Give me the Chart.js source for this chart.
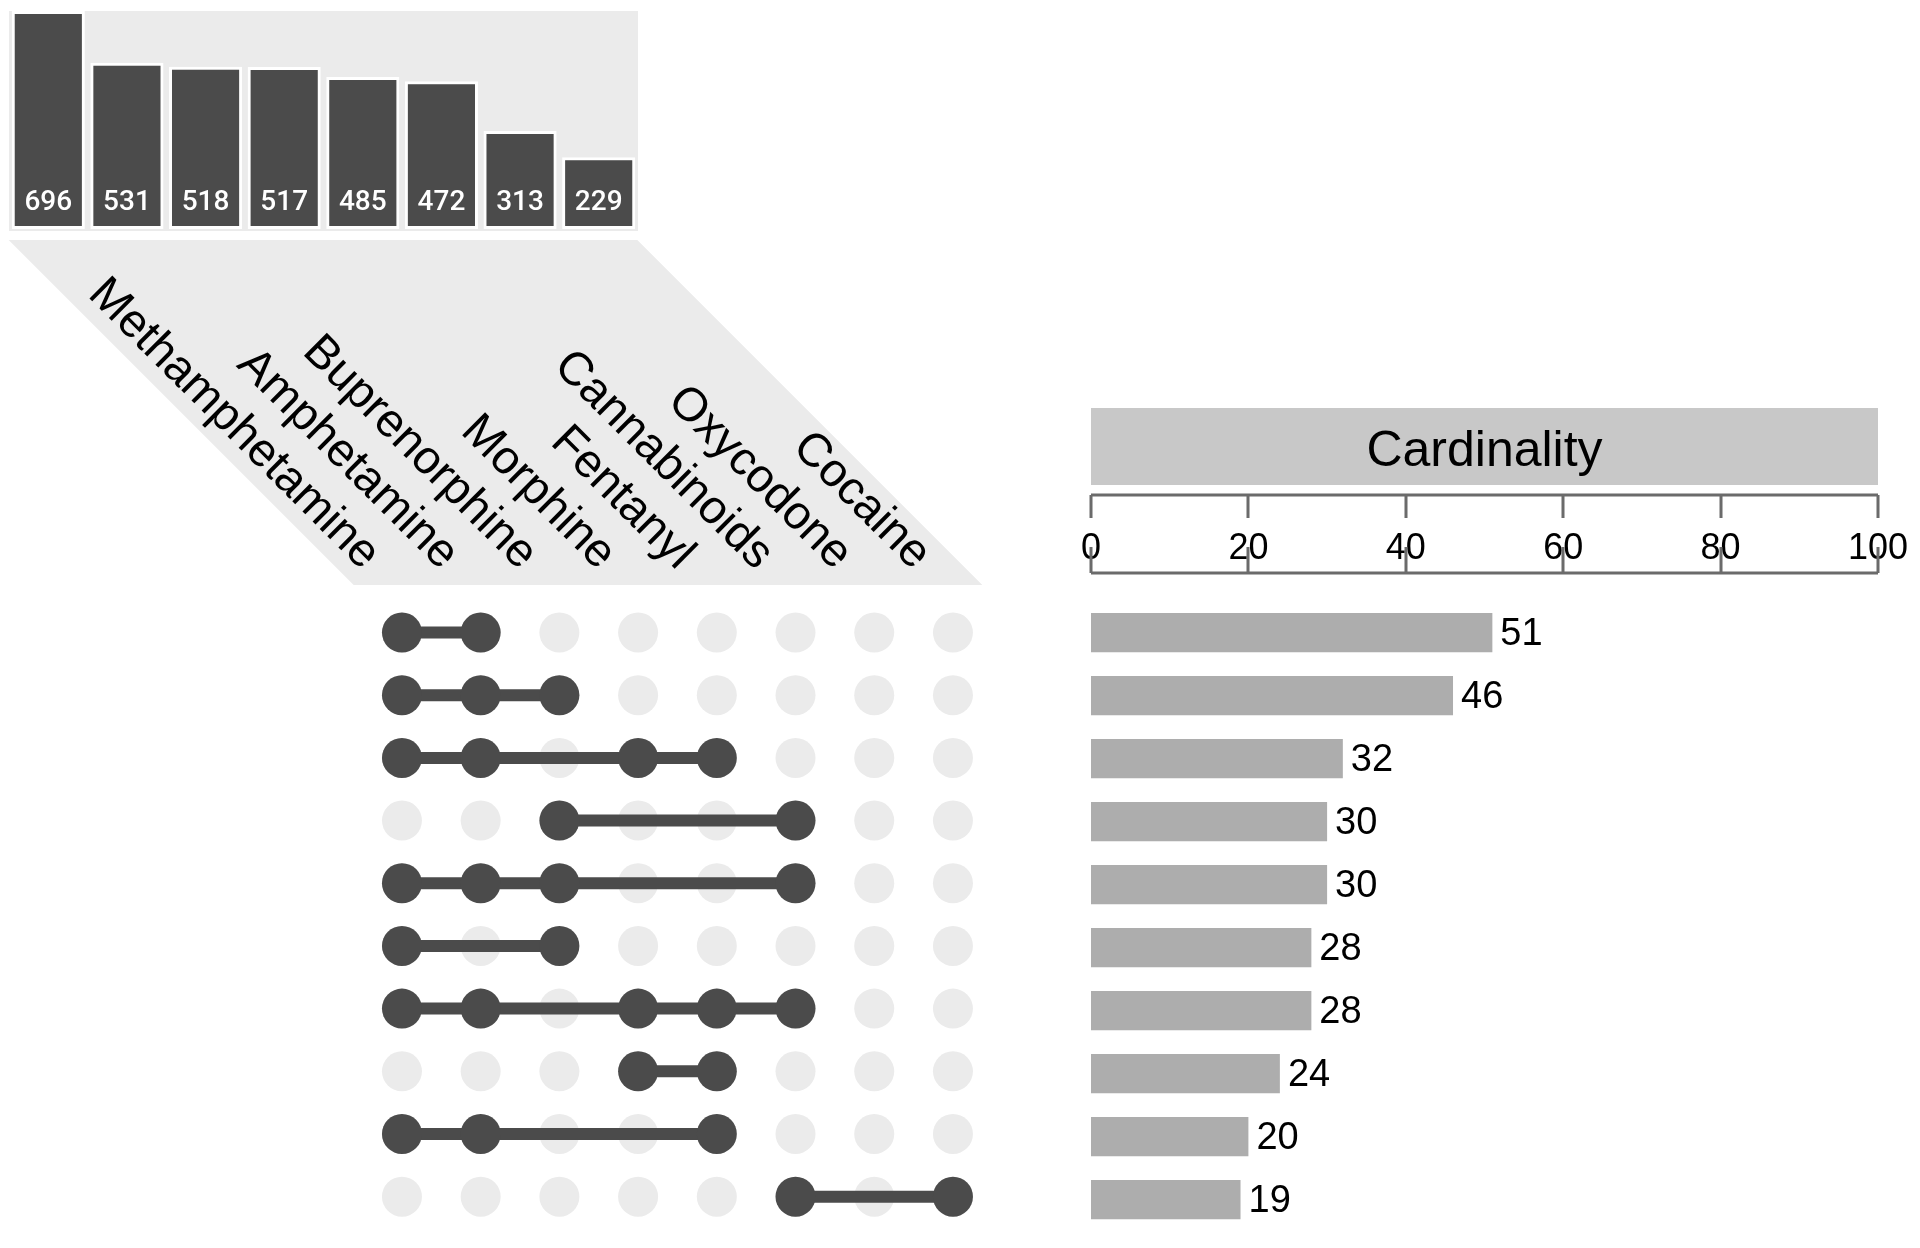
<!DOCTYPE html>
<html lang="en">
<head>
<meta charset="UTF-8">
<title>UpSet</title>
<style>
  html, body { margin: 0; padding: 0; background: #fff; }
  body { width: 1920px; height: 1248px; position: relative; overflow: hidden; }
  canvas { position: absolute; }
</style>
</head>
<body>
<canvas id="setChart" width="660" height="240" style="left:0;top:0"></canvas>
<canvas id="matrixChart" width="1060" height="1018" style="left:0;top:230px"></canvas>
<canvas id="cardChart" width="860" height="868" style="left:1060px;top:380px"></canvas>

<script src="https://cdn.jsdelivr.net/npm/chart.js"></script>
<script>
    // data
    const sets = ['Methamphetamine', 'Amphetamine', 'Buprenorphine', 'Morphine',
                  'Fentanyl', 'Cannabinoids', 'Oxycodone', 'Cocaine'];
    const setSizes = [696, 531, 518, 517, 485, 472, 313, 229];

    const intersections = [
        ['Methamphetamine', 'Amphetamine'],
        ['Methamphetamine', 'Amphetamine', 'Buprenorphine'],
        ['Methamphetamine', 'Amphetamine', 'Morphine', 'Fentanyl'],
        ['Buprenorphine', 'Cannabinoids'],
        ['Methamphetamine', 'Amphetamine', 'Buprenorphine', 'Cannabinoids'],
        ['Methamphetamine', 'Buprenorphine'],
        ['Methamphetamine', 'Amphetamine', 'Morphine', 'Fentanyl', 'Cannabinoids'],
        ['Morphine', 'Fentanyl'],
        ['Methamphetamine', 'Amphetamine', 'Fentanyl'],
        ['Cannabinoids', 'Cocaine']
    ];
    const cardinality = [51, 46, 32, 30, 30, 28, 28, 24, 20, 19];
    const cardTicks = [0, 20, 40, 60, 80, 100];

    const DARK = '#4b4b4b';
    const LIGHT = '#ebebeb';
    const LABEL_FONT = '"Liberation Sans", Arial, sans-serif';

    Chart.defaults.animation = false;
    Chart.defaults.responsive = false;
    Chart.defaults.plugins.legend.display = false;
    Chart.defaults.plugins.tooltip.enabled = false;

    // ---- set size bars (top left)
    new Chart(document.getElementById('setChart'), {
        type: 'bar',
        data: {
            labels: sets,
            datasets: [{
                data: setSizes,
                backgroundColor: DARK,
                borderColor: '#ffffff',
                borderWidth: 3,
                borderSkipped: false,
                barPercentage: 0.93,
                categoryPercentage: 1
            }]
        },
        options: {
            layout: {padding: {left: 9, right: 22, top: 11, bottom: 11}},
            scales: {
                x: {display: false},
                y: {display: false, min: 0, max: 696}
            }
        },
        plugins: [{
            id: 'panel',
            beforeDraw(chart) {
                const {ctx, chartArea: a} = chart;
                ctx.save();
                ctx.fillStyle = LIGHT;
                ctx.fillRect(a.left, a.top, a.right - a.left, a.bottom - a.top + 2);
                ctx.restore();
            },
            afterDatasetsDraw(chart) {
                const {ctx} = chart;
                const meta = chart.getDatasetMeta(0);
                ctx.save();
                ctx.fillStyle = '#ffffff';
                ctx.font = '500 28px Roboto, sans-serif';
                ctx.textAlign = 'center';
                ctx.textBaseline = 'middle';
                meta.data.forEach((bar, i) => {
                    ctx.fillText(String(setSizes[i]), bar.x, chart.chartArea.bottom - 26);
                });
                ctx.restore();
            }
        }]
    });

    // ---- membership matrix
    const rowDatasets = intersections.map((members, r) => ({
        data: members.map(name => ({x: sets.indexOf(name), y: r}))
            .sort((a, b) => a.x - b.x),
        showLine: true,
        borderColor: DARK,
        borderWidth: 12,
        pointRadius: 20,
        pointBackgroundColor: DARK,
        pointBorderWidth: 0,
        clip: false
    }));
    const gridPoints = [];
    intersections.forEach((m, r) => sets.forEach((s, c) => gridPoints.push({x: c, y: r})));

    new Chart(document.getElementById('matrixChart'), {
        type: 'scatter',
        data: {
            datasets: rowDatasets.concat([{
                data: gridPoints,
                pointRadius: 20,
                pointBackgroundColor: LIGHT,
                pointBorderWidth: 0,
                clip: false
            }])
        },
        options: {
            layout: {padding: {left: 362.6, right: 67.7, top: 371.2, bottom: 16.8}},
            scales: {
                x: {type: 'linear', display: false, min: -0.5, max: 7.5},
                y: {type: 'linear', display: false, min: -0.5, max: 9.5, reverse: true}
            }
        },
        plugins: [{
            id: 'setLabels',
            beforeDraw(chart) {
                const {ctx, chartArea: a} = chart;
                const xs = chart.scales.x;
                const yBottom = 355, yTop = 10;
                const shift = yBottom - yTop;
                ctx.save();
                ctx.fillStyle = LIGHT;
                ctx.beginPath();
                ctx.moveTo(a.left - 9, yBottom);
                ctx.lineTo(a.right - 10, yBottom);
                ctx.lineTo(a.right - 10 - shift, yTop);
                ctx.lineTo(a.left - 9 - shift, yTop);
                ctx.closePath();
                ctx.fill();

                ctx.fillStyle = '#000000';
                ctx.font = '47px ' + LABEL_FONT;
                ctx.textAlign = 'right';
                ctx.textBaseline = 'alphabetic';
                sets.forEach((name, i) => {
                    ctx.save();
                    ctx.translate(xs.getPixelForValue(i) - 40, 341);
                    ctx.rotate(Math.PI / 4);
                    ctx.fillText(name, 0, 0);
                    ctx.restore();
                });
                ctx.restore();
            }
        }]
    });

    // ---- cardinality bars (right)
    new Chart(document.getElementById('cardChart'), {
        type: 'bar',
        data: {
            labels: intersections.map(m => m.join(' & ')),
            datasets: [{
                data: cardinality,
                backgroundColor: '#adadad',
                barPercentage: 0.624,
                categoryPercentage: 1
            }]
        },
        options: {
            indexAxis: 'y',
            layout: {padding: {left: 31, right: 42, top: 221.2, bottom: 16.8}},
            scales: {
                x: {display: false, min: 0, max: 100},
                y: {display: false}
            }
        },
        plugins: [{
            id: 'cardAxis',
            afterDraw(chart) {
                const {ctx} = chart;
                const xs = chart.scales.x;
                const x0 = xs.getPixelForValue(0);
                const x1 = xs.getPixelForValue(100);
                ctx.save();

                // title box
                ctx.fillStyle = '#c8c8c8';
                ctx.fillRect(x0, 28, x1 - x0, 77);
                ctx.fillStyle = '#000000';
                ctx.font = '50px ' + LABEL_FONT;
                ctx.textAlign = 'center';
                ctx.textBaseline = 'middle';
                ctx.fillText('Cardinality', (x0 + x1) / 2, 72);

                // tick labels
                ctx.font = '36px ' + LABEL_FONT;
                cardTicks.forEach(v => {
                    ctx.fillText(String(v), xs.getPixelForValue(v), 169);
                });

                // axis lines + ticks
                ctx.strokeStyle = '#6b6b6b';
                ctx.lineWidth = 3;
                ctx.beginPath();
                ctx.moveTo(x0, 115); ctx.lineTo(x1, 115);
                ctx.moveTo(x0, 193); ctx.lineTo(x1, 193);
                cardTicks.forEach(v => {
                    const x = Math.round(xs.getPixelForValue(v));
                    ctx.moveTo(x, 115); ctx.lineTo(x, 138);
                    ctx.moveTo(x, 193); ctx.lineTo(x, 167);
                });
                ctx.stroke();

                // value labels
                const meta = chart.getDatasetMeta(0);
                ctx.fillStyle = '#000000';
                ctx.font = '38px ' + LABEL_FONT;
                ctx.textAlign = 'left';
                ctx.textBaseline = 'middle';
                meta.data.forEach((bar, i) => {
                    ctx.fillText(String(cardinality[i]), bar.x + 8, bar.y + 2);
                });
                ctx.restore();
            }
        }]
    });
</script>
</body>
</html>
